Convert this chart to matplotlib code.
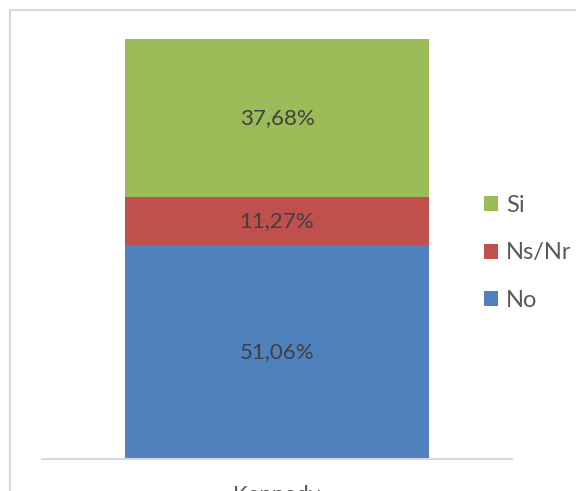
import numpy as np
import matplotlib.pyplot as plt
from matplotlib.patches import Rectangle

# stacked shares for the single category
categories = ['Kennedy']
series = ['No', 'Ns/Nr', 'Si']
values = [51.06, 11.27, 37.68]
colors = ['#4f81bd', '#c0504d', '#9bbb59']
labels = ['51,06%', '11,27%', '37,68%']

plt.rcParams['font.family'] = ['Lato', 'DejaVu Sans']

fig = plt.figure(figsize=(5.76, 4.91), dpi=100)
ax = fig.add_axes([42/576, 1-459/491, 470/576, 420/491])

bottom = 0.0
handles = []
for name, v, c, lab in zip(series, values, colors, labels):
    b = ax.bar(0, v, width=0.647, bottom=bottom, color=c, label=name)
    handles.append(b)
    ax.text(0, bottom + v/2, lab, ha='center', va='center', fontsize=16, color='#404040')
    bottom += v

ax.set_xlim(-0.5, 0.5)
ax.set_ylim(0, sum(values))
ax.set_yticks([])
ax.set_xticks([0])
ax.set_xticklabels(categories, fontsize=16, color='#595959')
ax.tick_params(axis='x', length=0, pad=19)
for s in ['top', 'right', 'left']:
    ax.spines[s].set_visible(False)
ax.spines['bottom'].set_color('#d9d9d9')
ax.spines['bottom'].set_linewidth(1.5)

fig.legend(handles[::-1], series[::-1], loc='center left',
           bbox_to_anchor=(472/576, 1-253/491), frameon=False,
           fontsize=17, handlelength=0.6, handleheight=0.6,
           handletextpad=0.35, labelspacing=1.12, borderpad=0,
           labelcolor='#595959')

# chart border
fig.patches.append(Rectangle((10/576, -0.1), 1.2, 1-10/491+0.1, transform=fig.transFigure,
                             fill=False, edgecolor='#d9d9d9', linewidth=1.5))

fig.savefig('out.png', dpi=100)
